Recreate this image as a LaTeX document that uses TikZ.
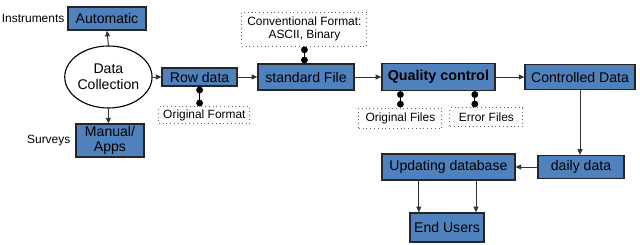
\documentclass[tikz,border=0pt]{standalone}
\usepackage{fontspec}
\setmainfont{Liberation Sans}
\usetikzlibrary{positioning,arrows.meta,shapes.geometric,calc}
\definecolor{stepblue}{HTML}{4F81BD}
\definecolor{lineGray}{HTML}{333333}

\begin{document}
\begin{tikzpicture}[
    procBox/.style={rectangle, draw=black!85, fill=stepblue, line width=0.9pt, font=\fontsize{10}{11}\selectfont, align=center, inner sep=1pt},
    noteBox/.style={rectangle, draw=black!60, dotted, line width=0.7pt, fill=white, font=\fontsize{8.5}{9.5}\selectfont, align=center, inner sep=1pt},
    sideLabel/.style={font=\fontsize{8.5}{9.5}\selectfont, inner sep=1pt},
    arrowFlow/.style={-{Triangle[length=4pt,width=3.5pt]}, line width=0.7pt, draw=lineGray},
    linkDot/.style={{Circle[length=4.8pt]}-{Circle[length=4.8pt]}, line width=0.8pt, draw=black}
]
    \useasboundingbox (0,0) rectangle (16,6.125);

    % collection stage
    \node[ellipse, draw=black, line width=0.8pt, fill=white, minimum width=1.825cm, minimum height=1.55cm, inner sep=0pt, align=center, font=\fontsize{10}{11.5}\selectfont] (coll) at (2.71, 4.2) {Data\\Collection};
    \node[procBox, minimum width=1.95cm, minimum height=0.575cm] (auto) at (2.675, 5.66) {Automatic};
    \node[procBox, minimum width=1.7cm, minimum height=0.825cm, font=\fontsize{10}{10.5}\selectfont] (manual) at (2.75, 2.61) {Manual/\\Apps};
    \node[sideLabel, anchor=east] (instr) at (1.65, 5.675) {Instruments};
    \node[sideLabel, anchor=east] (surv) at (1.8, 2.6) {Surveys};

    % main line
    \node[procBox, minimum width=1.875cm, minimum height=0.45cm] (row) at (4.99, 4.2) {Row data};
    \node[procBox, minimum width=2.4cm, minimum height=0.65cm] (std) at (7.65, 4.2) {standard File};
    \node[procBox, minimum width=2.825cm, minimum height=0.675cm, font=\fontsize{10.2}{11}\selectfont\bfseries] (qc) at (10.96, 4.2) {Quality control};
    \node[procBox, minimum width=2.75cm, minimum height=0.625cm] (ctrl) at (14.5, 4.2) {Controlled Data};

    % notes
    \node[noteBox, minimum width=2.275cm, minimum height=0.425cm] (origfmt) at (5.11, 3.24) {Original Format};
    \node[noteBox, minimum width=3.125cm, minimum height=0.85cm] (conv) at (7.61, 5.4) {Conventional Format:\\ASCII, Binary};
    \node[noteBox, minimum width=2.075cm, minimum height=0.5cm] (origfiles) at (10.01, 3.175) {Original Files};
    \node[noteBox, minimum width=1.825cm, minimum height=0.475cm] (errfiles) at (12.16, 3.19) {Error Files};

    % output stage
    \node[procBox, minimum width=2.15cm, minimum height=0.575cm] (daily) at (14.525, 1.95) {daily data};
    \node[procBox, minimum width=3.325cm, minimum height=0.65cm] (upd) at (11.21, 1.95) {Updating database};
    \node[procBox, minimum width=1.85cm, minimum height=0.725cm] (users) at (11.175, 0.44) {End Users};

    \draw[arrowFlow] (coll.north) -- (auto.south);
    \draw[arrowFlow] (coll.south) -- (coll.south |- manual.north);
    \draw[arrowFlow] (coll.east) -- (row.west);
    \draw[arrowFlow] (row.east) -- (std.west);
    \draw[arrowFlow] (std.east) -- (qc.west);
    \draw[arrowFlow] (qc.east) -- (ctrl.west);
    \draw[arrowFlow] (ctrl.south) -- (ctrl.south |- daily.north);
    \draw[arrowFlow] (daily.west) -- (upd.east);
    \draw[arrowFlow] ([xshift=-0.74cm]upd.south) -- ([xshift=-0.74cm]upd.south |- users.north);
    \draw[arrowFlow] ([xshift=0.69cm]upd.south) -- ([xshift=0.69cm]upd.south |- users.north);

    \coordinate (errtop) at ([xshift=-0.29cm]errfiles.north);
    \draw[linkDot] (row.south) -- (row.south |- origfmt.north);
    \draw[linkDot] (conv.south) -- (conv.south |- std.north);
    \draw[linkDot] (origfiles.north |- qc.south) -- (origfiles.north);
    \draw[linkDot] (errtop |- qc.south) -- (errtop);
\end{tikzpicture}
\end{document}
